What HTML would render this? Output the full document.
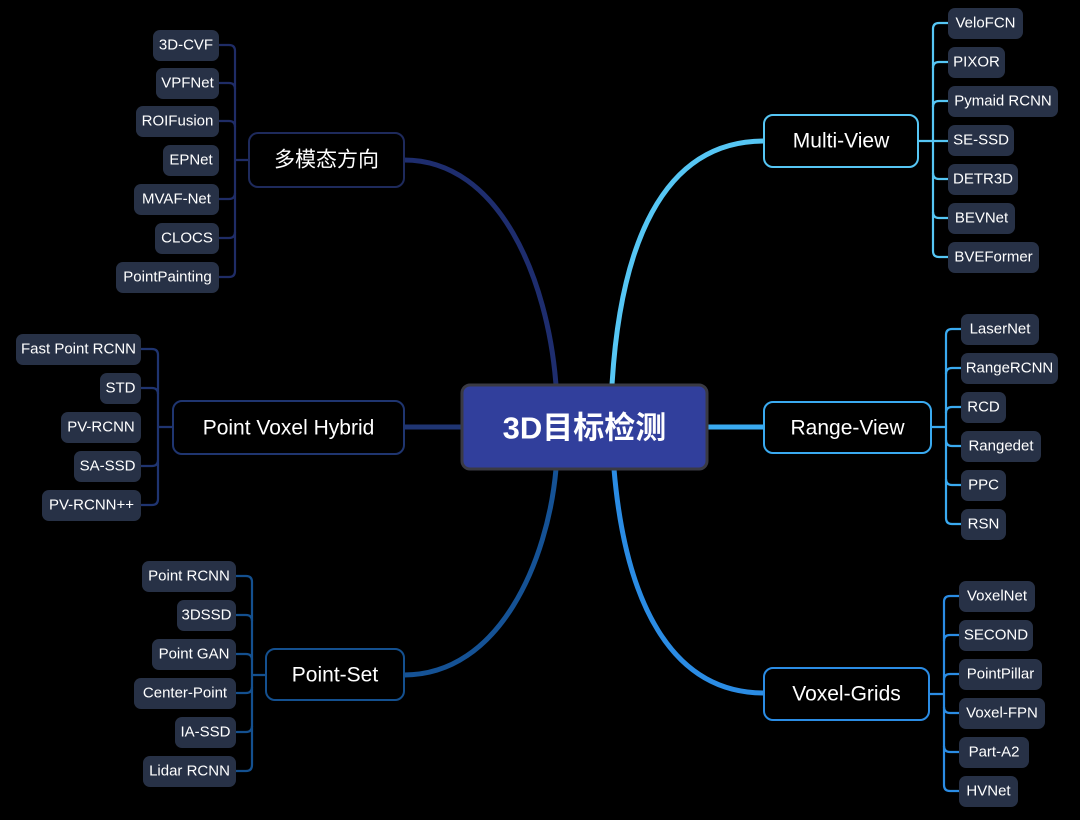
<!DOCTYPE html>
<html><head><meta charset="utf-8"><style>
html,body{margin:0;padding:0;background:#000;}
svg{display:block;}
text{font-family:"Liberation Sans","Noto Sans CJK SC",sans-serif;fill:#fff;}
.leaf rect{fill:#273146;}
.leaf text{font-size:15px;text-anchor:middle;dominant-baseline:central;}
.br text{font-size:21px;text-anchor:middle;dominant-baseline:central;}
</style></head><body>
<svg width="1080" height="820" viewBox="0 0 1080 820" xmlns="http://www.w3.org/2000/svg">
<!-- main connectors -->
<g fill="none" stroke-linecap="round">
<path d="M404 160 C500 160 548 280 556 385" stroke="#1e2d6e" stroke-width="5"/>
<path d="M404 427 H462" stroke="#1f3573" stroke-width="5"/>
<path d="M404 675 C500 675 548 560 556 469" stroke="#155295" stroke-width="5"/>
<path d="M764 141 C660 141 620 250 612 385" stroke="#56c6f4" stroke-width="5"/>
<path d="M707 427 H764" stroke="#3aaaf0" stroke-width="5"/>
<path d="M764 693 C670 693 625 600 614 469" stroke="#2b8ce4" stroke-width="5"/>
</g>
<!-- brackets -->
<g fill="none" stroke-width="2.2">
<g stroke="#1f2c66">
<path d="M404 160 H235 M235 51 V271"/>
<path d="M219 45 H229 Q235 45 235 51 M219 83 H229 Q235 83 235 89 M219 121 H229 Q235 121 235 127 M219 238 H229 Q235 238 235 232 M219 199 H229 Q235 199 235 193 M219 277 H229 Q235 277 235 271"/>
</g>
<g stroke="#1f3470">
<path d="M173 427 H158 M158 355 V499"/>
<path d="M141 349 H152 Q158 349 158 355 M141 388 H152 Q158 388 158 394 M141 466 H152 Q158 466 158 460 M141 505 H152 Q158 505 158 499"/>
</g>
<g stroke="#14508f">
<path d="M266 675 H252 M252 582 V765"/>
<path d="M236 576 H246 Q252 576 252 582 M236 615 H246 Q252 615 252 621 M236 654 H246 Q252 654 252 660 M236 693 H246 Q252 693 252 687 M236 732 H246 Q252 732 252 726 M236 771 H246 Q252 771 252 765"/>
</g>
<g stroke="#56c6f4">
<path d="M918 141 H948 M933 29 V251"/>
<path d="M948 23 H939 Q933 23 933 29 M948 62 H939 Q933 62 933 68 M948 101 H939 Q933 101 933 107 M948 179 H939 Q933 179 933 173 M948 218 H939 Q933 218 933 212 M948 257 H939 Q933 257 933 251"/>
</g>
<g stroke="#3aaaf0">
<path d="M931 427 H946 M946 335 V518"/>
<path d="M961 329 H952 Q946 329 946 335 M961 368 H952 Q946 368 946 374 M961 407 H952 Q946 407 946 413 M961 446 H952 Q946 446 946 440 M961 485 H952 Q946 485 946 479 M961 524 H952 Q946 524 946 518"/>
</g>
<g stroke="#2b8ce4">
<path d="M929 694 H944 M944 602 V785"/>
<path d="M959 596 H950 Q944 596 944 602 M959 635 H950 Q944 635 944 641 M959 674 H950 Q944 674 944 680 M959 713 H950 Q944 713 944 707 M959 752 H950 Q944 752 944 746 M959 791 H950 Q944 791 944 785"/>
</g>
</g>
<!-- center -->
<rect x="462" y="385" width="245" height="84" rx="8" fill="#313f9c" stroke="#3a3a44" stroke-width="3"/>
<text x="584.5" y="428" font-size="31" font-weight="bold" text-anchor="middle" dominant-baseline="central">3D目标检测</text>
<!-- branches -->
<g class="br" fill="#000" stroke-width="2">
<rect x="249" y="133" width="155" height="54" rx="9" stroke="#1e2a5c"/>
<rect x="173" y="401" width="231" height="53" rx="9" stroke="#1f3570"/>
<rect x="266" y="649" width="138" height="51" rx="9" stroke="#14508f"/>
<rect x="764" y="115" width="154" height="52" rx="9" stroke="#56c6f4"/>
<rect x="764" y="402" width="167" height="51" rx="9" stroke="#3aaaf0"/>
<rect x="764" y="668" width="165" height="52" rx="9" stroke="#2b8ce4"/>
</g>
<g class="br">
<text x="326.5" y="160">多模态方向</text>
<text x="288.5" y="428">Point Voxel Hybrid</text>
<text x="335" y="675">Point-Set</text>
<text x="841" y="141">Multi-View</text>
<text x="847.5" y="428">Range-View</text>
<text x="846.5" y="694">Voxel-Grids</text>
</g>
<!-- leaves -->
<g class="leaf">
<rect x="153" y="30" width="66" height="31" rx="7"/><text x="186" y="45">3D-CVF</text>
<rect x="156" y="68" width="63" height="31" rx="7"/><text x="187.5" y="83">VPFNet</text>
<rect x="136" y="106" width="83" height="31" rx="7"/><text x="177.5" y="121">ROIFusion</text>
<rect x="163" y="145" width="56" height="31" rx="7"/><text x="191" y="160">EPNet</text>
<rect x="134" y="184" width="85" height="31" rx="7"/><text x="176.5" y="199">MVAF-Net</text>
<rect x="155" y="223" width="64" height="31" rx="7"/><text x="187" y="238">CLOCS</text>
<rect x="116" y="262" width="103" height="31" rx="7"/><text x="167.5" y="277">PointPainting</text>

<rect x="16" y="334" width="125" height="31" rx="7"/><text x="78.5" y="349">Fast Point RCNN</text>
<rect x="100" y="373" width="41" height="31" rx="7"/><text x="120.5" y="388">STD</text>
<rect x="61" y="412" width="80" height="31" rx="7"/><text x="101" y="427">PV-RCNN</text>
<rect x="74" y="451" width="67" height="31" rx="7"/><text x="107.5" y="466">SA-SSD</text>
<rect x="42" y="490" width="99" height="31" rx="7"/><text x="91.5" y="505">PV-RCNN++</text>

<rect x="142" y="561" width="94" height="31" rx="7"/><text x="189" y="576">Point RCNN</text>
<rect x="177" y="600" width="59" height="31" rx="7"/><text x="206.5" y="615">3DSSD</text>
<rect x="152" y="639" width="84" height="31" rx="7"/><text x="194" y="654">Point GAN</text>
<rect x="134" y="678" width="102" height="31" rx="7"/><text x="185" y="693">Center-Point</text>
<rect x="175" y="717" width="61" height="31" rx="7"/><text x="205.5" y="732">IA-SSD</text>
<rect x="143" y="756" width="93" height="31" rx="7"/><text x="189.5" y="771">Lidar RCNN</text>

<rect x="948" y="8" width="75" height="31" rx="7"/><text x="985.5" y="23">VeloFCN</text>
<rect x="948" y="47" width="57" height="31" rx="7"/><text x="976.5" y="62">PIXOR</text>
<rect x="948" y="86" width="110" height="31" rx="7"/><text x="1003" y="101">Pymaid RCNN</text>
<rect x="948" y="125" width="66" height="31" rx="7"/><text x="981" y="140">SE-SSD</text>
<rect x="948" y="164" width="70" height="31" rx="7"/><text x="983" y="179">DETR3D</text>
<rect x="948" y="203" width="67" height="31" rx="7"/><text x="981.5" y="218">BEVNet</text>
<rect x="948" y="242" width="91" height="31" rx="7"/><text x="993.5" y="257">BVEFormer</text>

<rect x="961" y="314" width="78" height="31" rx="7"/><text x="1000" y="329">LaserNet</text>
<rect x="961" y="353" width="97" height="31" rx="7"/><text x="1009.5" y="368">RangeRCNN</text>
<rect x="961" y="392" width="45" height="31" rx="7"/><text x="983.5" y="407">RCD</text>
<rect x="961" y="431" width="80" height="31" rx="7"/><text x="1001" y="446">Rangedet</text>
<rect x="961" y="470" width="45" height="31" rx="7"/><text x="983.5" y="485">PPC</text>
<rect x="961" y="509" width="45" height="31" rx="7"/><text x="983.5" y="524">RSN</text>

<rect x="959" y="581" width="76" height="31" rx="7"/><text x="997" y="596">VoxelNet</text>
<rect x="959" y="620" width="74" height="31" rx="7"/><text x="996" y="635">SECOND</text>
<rect x="959" y="659" width="83" height="31" rx="7"/><text x="1000.5" y="674">PointPillar</text>
<rect x="959" y="698" width="86" height="31" rx="7"/><text x="1002" y="713">Voxel-FPN</text>
<rect x="959" y="737" width="70" height="31" rx="7"/><text x="994" y="752">Part-A2</text>
<rect x="959" y="776" width="59" height="31" rx="7"/><text x="988.5" y="791">HVNet</text>
</g>
</svg>
</body></html>
